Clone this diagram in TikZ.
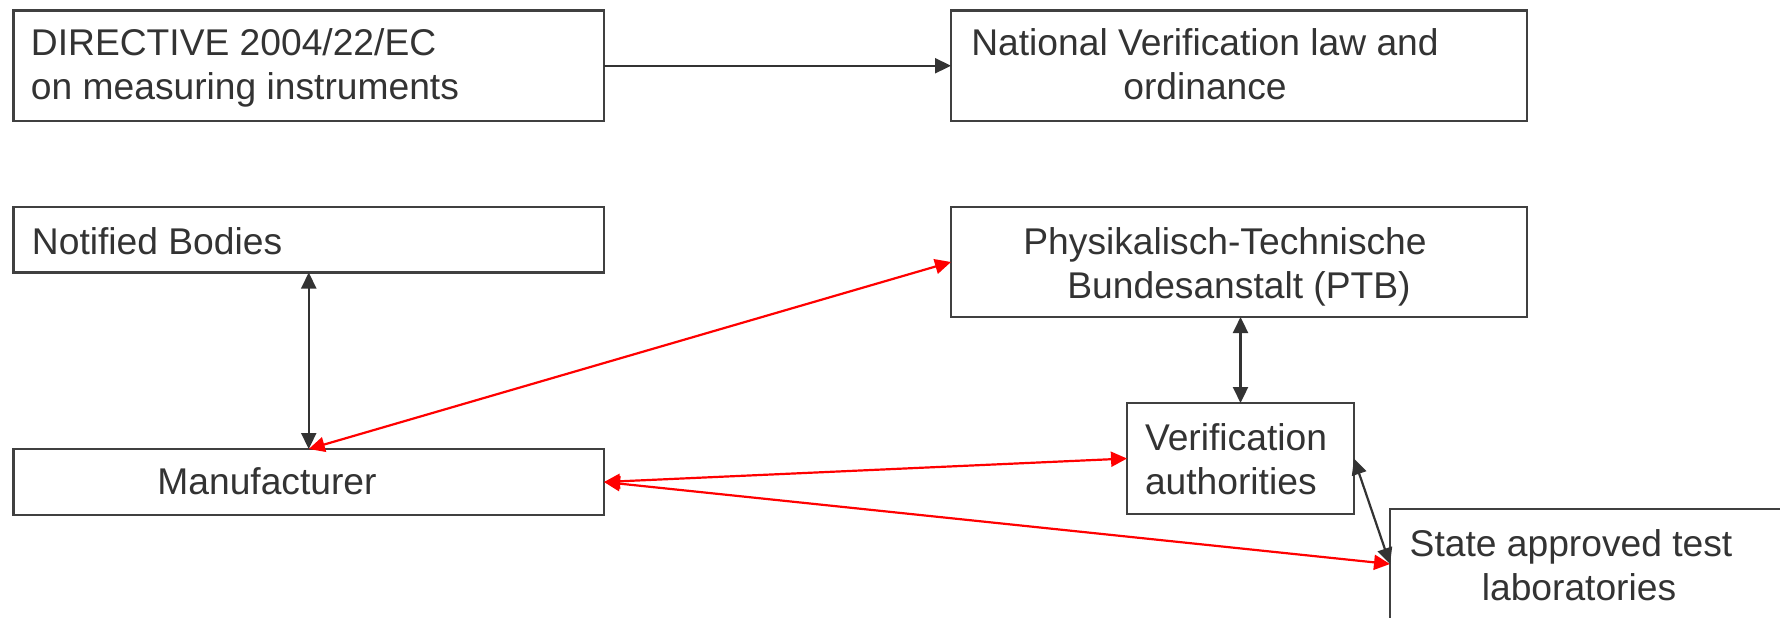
\documentclass[tikz,border=0pt]{standalone}
\usepackage{fontspec}
\setmainfont{Liberation Sans}
\usetikzlibrary{arrows.meta}
\definecolor{ink}{HTML}{333333}
\definecolor{frame}{HTML}{404040}
\definecolor{rline}{HTML}{FF0000}
\begin{document}
\begin{tikzpicture}[x=0.5pt,y=-0.5pt,
  box/.style={draw=frame,line width=1.2pt,inner sep=0pt,outer sep=0pt,rectangle},
  txt/.style={text=ink,inner sep=0pt,outer sep=0pt,font=\fontsize{18.6pt}{22.3pt}\selectfont},
  tipk/.tip={Triangle[length=8pt,width=7.5pt]},
  blkone/.style={draw=ink,line width=1.1pt,-tipk},
  blk/.style={draw=ink,line width=1.1pt,tipk-tipk},
  redln/.style={draw=rline,line width=1.1pt,tipk-tipk}]
\useasboundingbox (0,0) rectangle (1780,617);
\fill[white] (0,0) rectangle (1780,617);
\clip (0,0) rectangle (1780,617);
% boxes
\node[box,minimum width=295.25pt,minimum height=55.25pt] (dir) at (308.75,65.75) {};
\node[box,minimum width=288pt,minimum height=55.25pt] (nat) at (1239,65.75) {};
\node[box,minimum width=295.25pt,minimum height=32.75pt] (nb) at (308.75,239.75) {};
\node[box,minimum width=288pt,minimum height=55pt] (ptb) at (1239,262) {};
\node[box,minimum width=295.25pt,minimum height=33pt] (man) at (308.75,482) {};
\node[box,minimum width=113.5pt,minimum height=55.5pt] (ver) at (1240.5,458.5) {};
\node[box,minimum width=205pt,minimum height=55pt] (sat) at (1595,564) {};
% texts
\node[txt,anchor=base west] (dirA) at (31,55) {DIRECTIVE 2004/22/EC};
\node[txt,anchor=base west] (dirB) at (31,99.5) {on measuring instruments};
\node[txt,anchor=base] (natA) at (1205,55) {National Verification law and};
\node[txt,anchor=base] (natB) at (1205,99.5) {ordinance};
\node[txt,anchor=base west] (nbA) at (32,254) {Notified Bodies};
\node[txt,anchor=base] (ptbA) at (1225,254) {Physikalisch-Technische};
\node[txt,anchor=base] (ptbB) at (1239,298.5) {Bundesanstalt (PTB)};
\node[txt,anchor=base] (manA) at (267,494) {Manufacturer};
\node[txt,anchor=base west] (verA) at (1145,450) {Verification};
\node[txt,anchor=base west] (verB) at (1145,494.5) {authorities};
\node[txt,anchor=base] (satA) at (1571,556) {State approved test};
\node[txt,anchor=base] (satB) at (1579,600.5) {laboratories};
% connectors
\draw[blkone] (dir.east) -- (nat.west);
\draw[blk] (nb.south) -- (man.north);
\draw[blk] (ver.north |- ptb.south) -- (ver.north);
\draw[redln] (man.north) -- (ptb.west);
\draw[redln] (man.east) -- (ver.west);
\draw[redln] (man.east) -- (sat.west);
\draw[blk] (ver.east) -- (sat.west);
\end{tikzpicture}
\end{document}
